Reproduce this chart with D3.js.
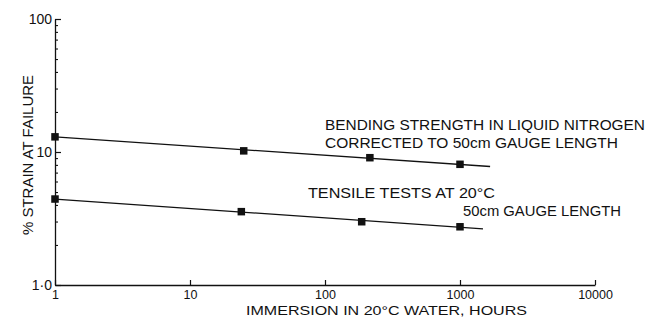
<!DOCTYPE html>
<html><head><meta charset="utf-8">
<script src="https://cdn.jsdelivr.net/npm/d3@7/dist/d3.min.js"></script>
<style>
body{margin:0;background:#fff}
svg{display:block}
text{font-family:"Liberation Sans",Arial,sans-serif;fill:#111}
</style>
</head><body>
<svg id="c" width="649" height="321"></svg>
<script>
// ---- data ----
const xTicks = [1, 10, 100, 1000, 10000];
const xTickLabels = ["1", "10", "100", "1000", "10000"];
const yTicks = [1, 10, 100];
const yTickLabels = ["1·0", "10", "100"];
const yMinorTicks = [2, 3, 4, 5, 6, 7, 8, 9, 20, 30, 40, 50, 60, 70, 80, 90];

const bendHours = [1, 25, 215, 1000];
const bendStrain = [13, 10.2, 9.06, 8.08];
const bendFitHours = [1, 1670];
const bendFitStrain = [13, 7.78];

const tensileHours = [1, 24, 187, 1000];
const tensileStrain = [4.43, 3.56, 2.99, 2.74];
const tensileFitHours = [1, 1480];
const tensileFitStrain = [4.43, 2.64];

const xTitle = "IMMERSION IN 20°C WATER, HOURS";
const yTitle = "% STRAIN AT FAILURE";
const bendLabel = ["BENDING STRENGTH IN LIQUID NITROGEN", "CORRECTED TO 50cm GAUGE LENGTH"];
const tensileLabel = ["TENSILE TESTS AT 20°C", "50cm GAUGE LENGTH"];

// ---- drawing ----
const svg = d3.select("#c");
const x = d3.scaleLog().domain([1, 10000]).range([55, 595]);
const y = d3.scaleLog().domain([1, 100]).range([285, 19]);
const ink = "#111";

// x axis
const gx = svg.append("g").attr("transform", `translate(0,${y(1)})`)
  .call(d3.axisBottom(x).tickValues(xTicks)
    .tickFormat((d, i) => xTickLabels[i])
    .tickSizeInner(-5).tickSizeOuter(0).tickPadding(5));
gx.selectAll("text").attr("font-size", 12.5).attr("fill", ink)
  .attr("font-family", "Liberation Sans, Arial, sans-serif");
gx.select(".domain").attr("stroke", ink).attr("stroke-width", 1.3);
gx.selectAll(".tick line").attr("stroke", ink).attr("stroke-width", 1.2);

// y axis minor
const gym = svg.append("g").attr("transform", `translate(${x(1)},0)`)
  .call(d3.axisLeft(y).tickValues(yMinorTicks).tickFormat("")
    .tickSizeInner(-3).tickSizeOuter(0));
gym.select(".domain").remove();
gym.selectAll(".tick line").attr("stroke", ink).attr("stroke-width", 1.1);

// y axis major
const gy = svg.append("g").attr("transform", `translate(${x(1)},0)`)
  .call(d3.axisLeft(y).tickValues(yTicks)
    .tickFormat((d, i) => yTickLabels[i])
    .tickSizeInner(-6).tickSizeOuter(0).tickPadding(3));
gy.selectAll("text").attr("font-size", 14).attr("fill", ink)
  .attr("font-family", "Liberation Sans, Arial, sans-serif");
gy.select(".domain").attr("stroke", ink).attr("stroke-width", 1.3);
gy.selectAll(".tick line").attr("stroke", ink).attr("stroke-width", 1.2);

// series
const line = d3.line().x(d => x(d[0])).y(d => y(d[1]));
function series(hours, strain, fitH, fitS) {
  svg.append("path")
    .datum(fitH.map((h, i) => [h, fitS[i]]))
    .attr("d", line).attr("fill", "none")
    .attr("stroke", ink).attr("stroke-width", 1.3);
  const s = 7.5;
  svg.append("g").selectAll("rect")
    .data(hours.map((h, i) => [h, strain[i]]))
    .join("rect")
    .attr("x", d => x(d[0]) - s / 2)
    .attr("y", d => y(d[1]) - s / 2)
    .attr("width", s).attr("height", s)
    .attr("fill", ink);
}
series(bendHours, bendStrain, bendFitHours, bendFitStrain);
series(tensileHours, tensileStrain, tensileFitHours, tensileFitStrain);

// texts
function label(txt, tx, ty, len, size) {
  svg.append("text").attr("x", tx).attr("y", ty)
    .attr("font-size", size || 14)
    .attr("textLength", len).attr("lengthAdjust", "spacingAndGlyphs")
    .text(txt);
}
label(bendLabel[0], 325, 130, 320);
label(bendLabel[1], 325, 148, 293);
label(tensileLabel[0], 308, 198, 187);
label(tensileLabel[1], 463, 216, 158);
label(xTitle, 246, 315, 281, 13);

svg.append("text")
  .attr("transform", `translate(33,${155}) rotate(-90)`)
  .attr("text-anchor", "middle")
  .attr("font-size", 15)
  .attr("textLength", 160).attr("lengthAdjust", "spacingAndGlyphs")
  .text(yTitle);
</script>
</body></html>
